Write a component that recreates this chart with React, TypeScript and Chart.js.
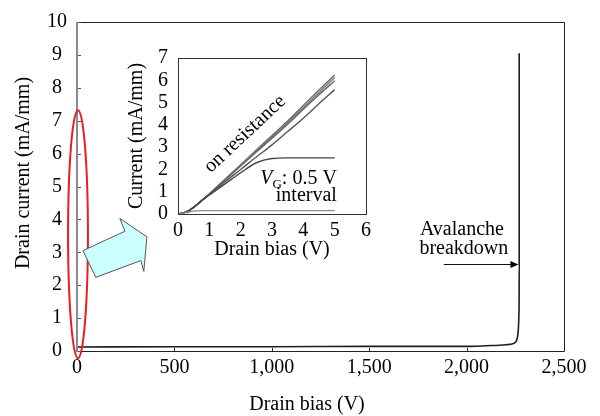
import React, { useEffect, useRef } from "react";
import { Chart, registerables } from "chart.js";
Chart.register(...registerables);

// ---------- main chart data (off-state breakdown sweep) ----------
const xTicks = [0, 500, 1000, 1500, 2000, 2500];
const yTicks = [0, 1, 2, 3, 4, 5, 6, 7, 8, 9, 10];
const offBias = [0, 500, 1000, 1500, 2000, 2100, 2200, 2240, 2255, 2262, 2266, 2268.5, 2269.7, 2270, 2270];
const offCurrent = [0.12, 0.13, 0.13, 0.14, 0.14, 0.16, 0.19, 0.23, 0.3, 0.45, 0.7, 1.1, 1.7, 2.6, 9.05];

// ---------- inset data (on-state output curves, VG step 0.5 V) ----------
const insetBias = [0, 0.25, 0.5, 0.75, 1, 1.5, 2, 2.5, 3, 3.5, 4, 4.5, 5];
const curveVg1 = [0, 0.06, 0.13, 0.15, 0.15, 0.15, 0.15, 0.15, 0.15, 0.15, 0.15, 0.15, 0.15];
const curveVg2 = [0, 0.08, 0.3, 0.58, 0.85, 1.35, 1.85, 2.3, 2.49, 2.52, 2.52, 2.52, 2.52];
const curveVg3 = [0, 0.08, 0.3, 0.6, 0.88, 1.45, 2.0, 2.56, 3.1, 3.7, 4.3, 4.95, 5.58];
const curveVg4 = [0, 0.08, 0.3, 0.6, 0.9, 1.53, 2.15, 2.78, 3.4, 4.03, 4.7, 5.35, 5.98];
const curveVg5 = [0, 0.08, 0.3, 0.6, 0.9, 1.55, 2.18, 2.83, 3.47, 4.1, 4.77, 5.45, 6.12];
const curveVg6 = [0, 0.08, 0.3, 0.6, 0.9, 1.56, 2.21, 2.87, 3.52, 4.17, 4.87, 5.56, 6.24];
const insetXTicks = [0, 1, 2, 3, 4, 5, 6];
const insetYTicks = [0, 1, 2, 3, 4, 5, 6, 7];

const FAMILY = "Liberation Serif";
const FONT = `"${FAMILY}", "Times New Roman", Times, serif`;
const FS = 20;
const INK = "#000";

const toPts = (xs: number[], ys: number[]) => xs.map((x, i) => ({ x, y: ys[i] }));

const mainDecor = {
  id: "mainDecor",
  afterDraw(chart: any) {
    const { ctx, chartArea: a, scales } = chart;
    const sx = scales.x, sy = scales.y;
    const px = (v: number) => sx.getPixelForValue(v);
    const py = (v: number) => sy.getPixelForValue(v);
    ctx.save();
    // frame
    ctx.strokeStyle = "#222";
    ctx.lineWidth = 1;
    ctx.beginPath();
    ctx.moveTo(a.left, a.top + 0.5);
    ctx.lineTo(a.right + 0.5, a.top + 0.5);
    ctx.lineTo(a.right + 0.5, a.bottom + 0.5);
    ctx.lineTo(a.left, a.bottom + 0.5);
    ctx.stroke();
    // inward ticks
    xTicks.forEach((t) => {
      const x = Math.round(px(t)) + 0.5;
      ctx.beginPath();
      ctx.moveTo(x, a.bottom);
      ctx.lineTo(x, a.bottom - 3);
      ctx.stroke();
    });
    ctx.strokeStyle = "#555";
    yTicks.forEach((t) => {
      const y = Math.round(py(t)) + 0.5;
      ctx.beginPath();
      ctx.moveTo(a.left, y);
      ctx.lineTo(a.left + 4, y);
      ctx.stroke();
    });
    // gray left axis
    ctx.strokeStyle = "#8a8a8a";
    ctx.lineWidth = 2;
    ctx.beginPath();
    ctx.moveTo(a.left, a.top);
    ctx.lineTo(a.left, a.bottom + 1);
    ctx.stroke();

    // red ellipse around the on-state region
    ctx.strokeStyle = "#ee1c1c";
    ctx.lineWidth = 2;
    ctx.beginPath();
    const ecx = px(0) + 1, ecy = py(3.55);
    const erx = px(51) - px(0), ery = py(0) - py(3.77);
    ctx.ellipse(ecx, ecy, erx, ery, 0, 0, Math.PI * 2);
    ctx.stroke();

    // block arrow
    const arrow = [
      [30, 3.05], [246, 3.64], [220, 4.03], [359, 3.47], [343, 2.42], [328, 2.75], [97, 2.24],
    ];
    ctx.beginPath();
    arrow.forEach(([x, y], i) => (i ? ctx.lineTo(px(x), py(y)) : ctx.moveTo(px(x), py(y))));
    ctx.closePath();
    ctx.fillStyle = "#ccffff";
    ctx.fill();
    ctx.strokeStyle = "#555";
    ctx.lineWidth = 1;
    ctx.stroke();

    // avalanche annotation
    ctx.fillStyle = INK;
    ctx.font = `${FS}px ${FONT}`;
    ctx.textAlign = "center";
    ctx.textBaseline = "alphabetic";
    ctx.fillText("Avalanche", px(1976), py(3.54));
    ctx.fillText("breakdown", px(1986), py(2.95));
    const ay = Math.round(py(2.65)) + 0.5;
    const ax0 = px(1883), ax1 = px(2266);
    ctx.strokeStyle = "#111";
    ctx.lineWidth = 1;
    ctx.beginPath();
    ctx.moveTo(ax0, ay);
    ctx.lineTo(ax1 - 6, ay);
    ctx.stroke();
    ctx.beginPath();
    ctx.moveTo(ax1, ay);
    ctx.lineTo(ax1 - 8, ay - 3.5);
    ctx.lineTo(ax1 - 8, ay + 3.5);
    ctx.closePath();
    ctx.fill();

    // axis titles
    ctx.textAlign = "center";
    ctx.textBaseline = "middle";
    ctx.fillText("Drain bias (V)", 307, 405);
    ctx.translate(24, 173);
    ctx.rotate(-Math.PI / 2);
    ctx.fillText("Drain current (mA/mm)", 0, 0);
    ctx.restore();
  },
};

const insetDecor = {
  id: "insetDecor",
  afterDraw(chart: any) {
    const { ctx, chartArea: a, scales } = chart;
    const px = (v: number) => scales.x.getPixelForValue(v);
    const py = (v: number) => scales.y.getPixelForValue(v);
    ctx.save();
    ctx.strokeStyle = "#333";
    ctx.lineWidth = 1;
    ctx.strokeRect(Math.round(a.left) + 0.5, Math.round(a.top) + 0.5, Math.round(a.right - a.left), Math.round(a.bottom - a.top));
    ctx.fillStyle = INK;
    ctx.font = `${FS}px ${FONT}`;
    // on resistance
    ctx.save();
    ctx.translate(px(2.14), py(3.59));
    ctx.rotate((-43 * Math.PI) / 180);
    ctx.textAlign = "center";
    ctx.textBaseline = "middle";
    ctx.fillText("on resistance", 0, 0);
    ctx.restore();
    // VG: 0.5 V interval
    const right = px(5.07);
    const base = py(1.33);
    ctx.textBaseline = "alphabetic";
    ctx.textAlign = "left";
    const fV = `italic ${FS}px ${FONT}`;
    const fG = `13px ${FONT}`;
    const fR = `${FS}px ${FONT}`;
    ctx.font = fV; const wV = ctx.measureText("V").width;
    ctx.font = fG; const wG = ctx.measureText("G").width;
    ctx.font = fR; const rest = ": 0.5 V"; const wR = ctx.measureText(rest).width;
    let x = right - (wV + wG + wR);
    ctx.font = fV; ctx.fillText("V", x, base); x += wV;
    ctx.font = fG; ctx.fillText("G", x, base + 4); x += wG;
    ctx.font = fR; ctx.fillText(rest, x, base);
    ctx.textAlign = "right";
    ctx.fillText("interval", right, py(0.57));
    // titles
    ctx.textAlign = "center";
    ctx.textBaseline = "middle";
    ctx.fillText("Drain bias (V)", (a.left + a.right) / 2, a.bottom + 36);
    ctx.translate(17, (a.top + a.bottom) / 2);
    ctx.rotate(-Math.PI / 2);
    ctx.fillText("Current (mA/mm)", 0, 0);
    ctx.restore();
  },
};

export default function App() {
  const mainRef = useRef<HTMLCanvasElement>(null);
  const insetRef = useRef<HTMLCanvasElement>(null);

  useEffect(() => {
    let main: any = null;
    let inset: any = null;
    let cancelled = false;
    const tickFont = { family: FONT, size: FS };

    const build = () => {
      if (cancelled) return;
      main = new Chart(mainRef.current!, {
        type: "scatter",
        data: {
          datasets: [
            {
              data: toPts(offBias, offCurrent),
              showLine: true,
              borderColor: "#1e1e1e",
              borderWidth: 1.6,
              pointRadius: 0,
              cubicInterpolationMode: "monotone",
            },
          ],
        },
        options: {
          animation: false,
          responsive: false,
          devicePixelRatio: 1,
          layout: { padding: { left: 0, top: 17, right: 36, bottom: 0 } },
          plugins: { legend: { display: false }, tooltip: { enabled: false } },
          scales: {
            x: {
              type: "linear",
              min: 0,
              max: 2500,
              afterBuildTicks: (s: any) => { s.ticks = xTicks.map((v) => ({ value: v })); },
              afterFit: (s: any) => { s.height = 65; },
              grid: { display: false, drawTicks: false },
              border: { display: false },
              ticks: {
                color: INK,
                font: tickFont,
                padding: 5,
                maxRotation: 0,
                autoSkip: false,
                callback: (v: any) => Number(v).toLocaleString("en-US"),
              },
            },
            y: {
              type: "linear",
              min: 0,
              max: 10,
              afterBuildTicks: (s: any) => { s.ticks = yTicks.map((v) => ({ value: v })); },
              afterFit: (s: any) => { s.width = 77; },
              grid: { display: false, drawTicks: false },
              border: { display: false },
              ticks: { color: INK, font: tickFont, padding: 10, crossAlign: "center", autoSkip: false },
            },
          },
        },
        plugins: [mainDecor],
      } as any);

      const insetColors = ["#8a8a8a", "#444", "#555", "#666", "#777", "#6a6a6a"];
      const insetSeries = [curveVg1, curveVg2, curveVg3, curveVg4, curveVg5, curveVg6];
      inset = new Chart(insetRef.current!, {
        type: "scatter",
        data: {
          datasets: insetSeries.map((ys, i) => ({
            data: toPts(insetBias, ys),
            showLine: true,
            borderColor: insetColors[i],
            borderWidth: 1.4,
            pointRadius: 0,
            cubicInterpolationMode: "monotone",
          })),
        },
        options: {
          animation: false,
          responsive: false,
          devicePixelRatio: 1,
          layout: { padding: { left: 0, top: 14, right: 14, bottom: 0 } },
          plugins: { legend: { display: false }, tooltip: { enabled: false } },
          scales: {
            x: {
              type: "linear",
              min: 0,
              max: 6,
              afterBuildTicks: (s: any) => { s.ticks = insetXTicks.map((v) => ({ value: v })); },
              afterFit: (s: any) => { s.height = 54; },
              grid: { display: false, drawTicks: false },
              border: { display: false },
              ticks: { color: INK, font: tickFont, padding: 5, maxRotation: 0, autoSkip: false },
            },
            y: {
              type: "linear",
              min: 0,
              max: 7,
              afterBuildTicks: (s: any) => { s.ticks = insetYTicks.map((v) => ({ value: v })); },
              afterFit: (s: any) => { s.width = 58; },
              grid: { display: false, drawTicks: false },
              border: { display: false },
              ticks: { color: INK, font: tickFont, padding: 10, crossAlign: "center", autoSkip: false },
            },
          },
        },
        plugins: [insetDecor],
      } as any);
    };

    const fonts: any = (document as any).fonts;
    if (fonts && fonts.load) {
      Promise.all([
        fonts.load(`${FS}px "${FAMILY}"`),
        fonts.load(`italic ${FS}px "${FAMILY}"`),
      ])
        .catch(() => null)
        .then(() => build());
    } else {
      build();
    }

    return () => {
      cancelled = true;
      if (main) main.destroy();
      if (inset) inset.destroy();
    };
  }, []);

  return (
    <div style={{ position: "absolute", left: 0, top: 0, width: 600, height: 416, background: "#fff" }}>
      <canvas ref={mainRef} width={600} height={416} style={{ position: "absolute", left: 0, top: 0 }} />
      <canvas ref={insetRef} width={260} height={232} style={{ position: "absolute", left: 120, top: 36 }} />
    </div>
  );
}
